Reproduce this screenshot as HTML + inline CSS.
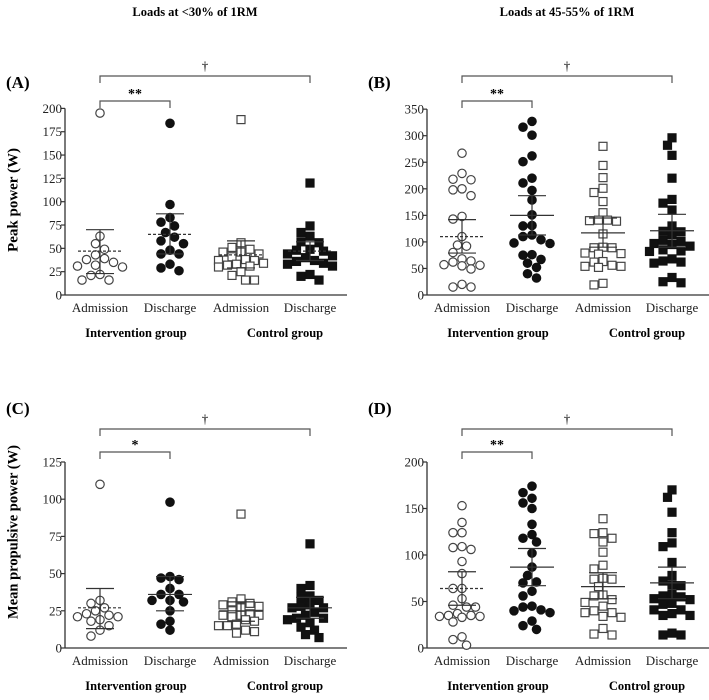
<!DOCTYPE html>
<html><head><meta charset="utf-8">
<style>
html,body{margin:0;padding:0;background:#fff;}
svg{display:block;font-family:"Liberation Serif",serif;}
</style></head>
<body>
<svg id="chart" width="709" height="700" viewBox="0 0 709 700">
<text x="195" y="16" text-anchor="middle" font-size="12.5" font-weight="bold">Loads at &lt;30% of 1RM</text>
<text x="567" y="16" text-anchor="middle" font-size="12.5" font-weight="bold">Loads at 45-55% of 1RM</text>
<text x="14" y="200" transform="rotate(-90 14 200)" text-anchor="middle" dominant-baseline="middle" font-size="15" font-weight="bold">Peak power (W)</text>
<text x="14" y="532" transform="rotate(-90 14 532)" text-anchor="middle" dominant-baseline="middle" font-size="14.5" font-weight="bold">Mean propulsive power (W)</text>
</svg>
<script>
// Categories
const categories = ["Admission","Discharge","Admission","Discharge"];
const groupLabels = ["Intervention group","Control group"];
// Panel A values (Peak power, <30% 1RM)
const aIntAdm = [195,63,55,49,43,39,38,35,32,31,30,22,21,16,16];
const aIntDis = [184,97,83,78,74,67,62,58,55,48,44,44,33,29,26];
const aCtlAdm = [188,56,51,49,46,46,44,41,38,37,37,34,33,32,31,30,25,21,16,16];
const aCtlDis = [120,74,67,63,57,56,49,48,47,44,42,40,37,36,34,33,31,22,20,16];
const aStats = [[47,23,70],[65,44,87],[43,29,58],[47,37,57]];
const aTicks = [0,25,50,75,100,125,150,175,200];
// Panel B values (Peak power, 45-55% 1RM)
const bIntAdm = [267,229,218,217,200,198,187,148,143,110,94,92,80,68,64,62,57,56,55,49,20,15,15];
const bIntDis = [327,316,301,262,251,220,211,197,179,151,131,130,113,110,104,98,97,76,75,67,60,52,40,32];
const bCtlAdm = [280,244,221,201,193,176,155,141,140,139,141,115,90,89,89,79,78,77,63,62,56,54,52,54,22,19];
const bCtlDis = [296,282,263,220,180,173,160,130,120,119,113,103,101,97,95,92,85,83,82,68,64,62,60,33,25,23];
const bStats = [[110,79,142],[150,113,187],[117,90,145],[121,90,152]];
const bTicks = [0,50,100,150,200,250,300,350];
// Panel C values (Mean propulsive power, <30% 1RM)
const cIntAdm = [110,32,30,27,25,23,22,21,21,19,18,15,12,8];
const cIntDis = [98,48,47,46,40,36,36,32,32,31,25,18,16,12];
const cCtlAdm = [90,33,31,30,29,28,27,25,23,22,22,22,21,19,18,16,15,15,12,11,10];
const cCtlDis = [70,42,40,35,34,32,29,28,27,27,24,22,20,20,19,17,14,12,9,7];
const cStats = [[27,13,40],[36,25,48],[25,18,31],[27,20,34]];
const cTicks = [0,25,50,75,100,125];
// Panel D values (Mean propulsive power, 45-55% 1RM)
const dIntAdm = [153,135,124,124,109,106,108,93,80,64,64,53,46,44,44,37,35,34,33,34,35,28,12,9,3];
const dIntDis = [174,167,161,156,150,133,122,118,114,102,87,78,71,70,61,56,45,44,40,38,41,29,24,20];
const dCtlAdm = [139,124,123,118,114,103,89,85,75,74,74,66,57,56,52,49,45,40,38,38,34,33,21,15,14];
const dCtlDis = [170,162,146,124,113,109,92,78,72,67,68,58,56,55,53,52,48,47,41,41,35,35,37,16,14,14];
const dStats = [[64,46,82],[87,67,107],[66,53,81],[70,53,87]];
const dTicks = [0,50,100,150,200];
const sigLabels = ["**","**","*","**"];

const NS="http://www.w3.org/2000/svg";
const svg=document.getElementById("chart");
function mk(tag,attrs,parent){const e=document.createElementNS(NS,tag);for(const k in attrs)e.setAttribute(k,attrs[k]);(parent||svg).appendChild(e);return e;}

const panels=[
 {id:"a",letter:"(A)",lx:6,ly:88,x0:65,yZero:295,yMax:200,ppu:0.933,series:[aIntAdm,aIntDis,aCtlAdm,aCtlDis],stats:aStats,ticks:aTicks,dash:[1,1,1,1],br1:76,br2:101,sig:sigLabels[0],lbY:312,grY:337},
 {id:"b",letter:"(B)",lx:368,ly:88,x0:427,yZero:295,yMax:350,ppu:0.531,series:[bIntAdm,bIntDis,bCtlAdm,bCtlDis],stats:bStats,ticks:bTicks,dash:[1,0,0,0],br1:76,br2:101,sig:sigLabels[1],lbY:312,grY:337},
 {id:"c",letter:"(C)",lx:6,ly:414,x0:65,yZero:648,yMax:125,ppu:1.488,series:[cIntAdm,cIntDis,cCtlAdm,cCtlDis],stats:cStats,ticks:cTicks,dash:[1,0,0,0],br1:429,br2:452,sig:sigLabels[2],lbY:665,grY:690},
 {id:"d",letter:"(D)",lx:368,ly:414,x0:427,yZero:648,yMax:200,ppu:0.93,series:[dIntAdm,dIntDis,dCtlAdm,dCtlDis],stats:dStats,ticks:dTicks,dash:[1,0,0,0],br1:429,br2:452,sig:sigLabels[3],lbY:665,grY:690}
];
const catOff=[35,105,176,245];
const grpOff=[71,220];
const col="#333";

panels.forEach(p=>{
 const g=mk("g",{});
 
 
 const y=v=>p.yZero-v*p.ppu;
 const xc=i=>p.x0+catOff[i];
 const lt=mk("text",{x:p.lx,y:p.ly,"font-size":17,"font-weight":"bold"},g);lt.textContent=p.letter;
 
 
 const ya=mk("line",{x1:p.x0,x2:p.x0,y1:p.yZero,y2:y(p.yMax),stroke:col,"stroke-width":1.3},g);
 
 
 const xa=mk("line",{x1:p.x0,x2:p.x0+282,y1:p.yZero,y2:p.yZero,stroke:col,"stroke-width":1.3},g);
 
 
 p.ticks.forEach(t=>{
  mk("line",{x1:p.x0-4,x2:p.x0,y1:y(t),y2:y(t),stroke:col,"stroke-width":1.2},g);
  const tx=mk("text",{x:p.x0-3,y:y(t)+4.5,"text-anchor":"end","font-size":13,fill:"#222"},g);tx.textContent=t;
  
  
 });
 categories.forEach((c,i)=>{
  const tx=mk("text",{x:xc(i),y:p.lbY,"text-anchor":"middle","font-size":13,fill:"#222"},g);tx.textContent=c;
  
  
 });
 groupLabels.forEach((c,i)=>{
  const tx=mk("text",{x:p.x0+grpOff[i],y:p.grY,"text-anchor":"middle","font-size":12.5,"font-weight":"bold"},g);tx.textContent=c;
  
  
 });
 const b1=mk("path",{d:`M${xc(0)},${p.br1+7}V${p.br1}H${xc(3)}V${p.br1+7}`,fill:"none",stroke:"#555","stroke-width":1.2},g);
 
 
 const d1=mk("text",{x:(xc(0)+xc(3))/2,y:p.br1-6,"text-anchor":"middle","font-size":13},g);d1.textContent="†";
 
 
 const b2=mk("path",{d:`M${xc(0)},${p.br2+7}V${p.br2}H${xc(1)}V${p.br2+7}`,fill:"none",stroke:"#555","stroke-width":1.2},g);
 
 
 const s2=mk("text",{x:(xc(0)+xc(1))/2,y:p.br2-3,"text-anchor":"middle","font-size":14,"font-weight":"bold"},g);s2.textContent=p.sig;
 
 
 const minD=8.5, step=4.5, maxOff=23;
 p.series.forEach((vals,i)=>{
  const placed=[];
  const sorted=vals.slice().sort((a,b)=>b-a);
  sorted.forEach(v=>{
   const py=y(v);
   let best=0,bestScore=-1;
   for(let k=0;k<14;k++){
    const cand=k===0?0:(k%2?-1:1)*Math.ceil(k/2)*step;
    if(Math.abs(cand)>maxOff) break;
    const dmin=placed.reduce((m,q)=>Math.min(m,Math.hypot(q[0]-cand,q[1]-py)),99);
    if(dmin>=minD){best=cand;bestScore=99;break;}
    if(dmin>bestScore){bestScore=dmin;best=cand;}
   }
   placed.push([best,py]);
   const cx=xc(i)+best;
   const filled=(i%2===1), square=(i>=2);
   let m;
   if(square) m=mk("rect",{x:cx-4,y:py-4,width:8,height:8,fill:filled?"#111":"#fff",stroke:filled?"#111":"#444","stroke-width":1.2},g);
   else m=mk("circle",{cx:cx,cy:py,r:4.2,fill:filled?"#111":"#fff",stroke:filled?"#111":"#444","stroke-width":1.2},g);
   
   
  });
 });
 p.stats.forEach((s,i)=>{
  const cx=xc(i);
  const eb=mk("g",{},g);
  
  
  mk("line",{x1:cx,x2:cx,y1:y(s[1]),y2:y(s[2]),stroke:"#333","stroke-width":1.2},eb);
  mk("line",{x1:cx-14,x2:cx+14,y1:y(s[1]),y2:y(s[1]),stroke:"#333","stroke-width":1.2},eb);
  mk("line",{x1:cx-14,x2:cx+14,y1:y(s[2]),y2:y(s[2]),stroke:"#333","stroke-width":1.2},eb);
  const ml=mk("line",{x1:cx-22,x2:cx+22,y1:y(s[0]),y2:y(s[0]),stroke:"#333","stroke-width":1.2},eb);
  if(p.dash[i]) ml.setAttribute("stroke-dasharray","3,2");
 });
});
</script>
</body></html>
